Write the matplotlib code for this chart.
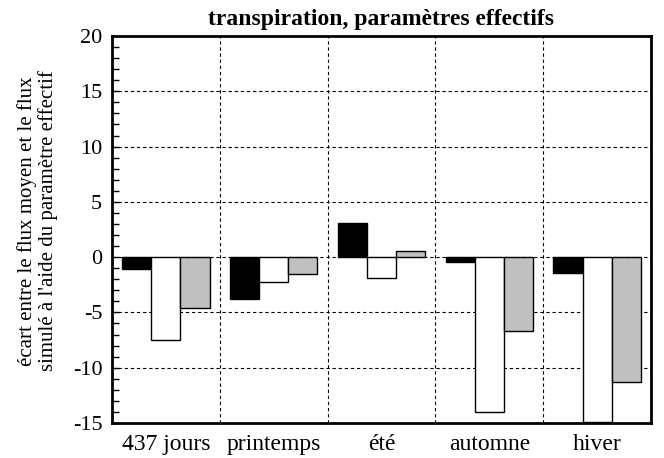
import numpy as np
import matplotlib
matplotlib.use('Agg')
from matplotlib import pyplot as plt

# categories et valeurs
categories = ['437 jours', 'printemps', 'été', 'automne', 'hiver']
serie_noire = [-1.1, -3.8, 3.1, -0.4, -1.45]
serie_blanche = [-7.45, -2.25, -1.85, -14.0, -14.9]
serie_grise = [-4.6, -1.5, 0.55, -6.7, -11.3]

plt.rcParams['font.family'] = ['Liberation Serif', 'DejaVu Serif']
plt.rcParams['axes.unicode_minus'] = False

fig = plt.figure(figsize=(6.64, 4.58), dpi=100)
ax = fig.add_axes([112/664, 1 - 423/458, 539/664, 387/458])

x = np.arange(len(categories))
w = 0.27
ax.bar(x - w, serie_noire, w, color='black', edgecolor='black', linewidth=1.0, zorder=3)
ax.bar(x, serie_blanche, w, color='white', edgecolor='black', linewidth=1.0, zorder=3)
ax.bar(x + w, serie_grise, w, color='#c0c0c0', edgecolor='black', linewidth=1.0, zorder=3)

ax.set_xlim(-0.5, len(categories) - 0.5)
ax.set_ylim(-15, 20)
ax.set_yticks(np.arange(-15, 21, 5))
ax.set_yticks(np.arange(-15, 21, 1), minor=True)
ax.set_xticks(x)
ax.set_xticklabels(categories)

# grille
for yv in [-10, -5, 0, 5, 10, 15]:
    ax.axhline(yv, color='black', linestyle=(0, (3, 2.5)), linewidth=0.8, zorder=1)
for xv in np.arange(0.5, len(categories) - 0.5, 1):
    ax.axvline(xv, color='black', linestyle=(0, (3, 2.5)), linewidth=0.8, zorder=1)

ax.tick_params(axis='y', which='major', direction='in', length=5, width=1, labelsize=16, pad=7)
ax.tick_params(axis='y', which='minor', direction='in', length=5, width=1)
ax.tick_params(axis='x', which='both', length=0, labelsize=17, pad=8)

for s in ax.spines.values():
    s.set_linewidth(2)

ax.set_ylabel("écart entre le flux moyen et le flux\nsimulé à l'aide du paramètre effectif",
              fontsize=15, linespacing=1.05)
ax.yaxis.set_label_coords(-0.100, 0.522)
ax.set_title('transpiration, paramètres effectifs', fontsize=17, fontweight='bold', pad=8)

plt.savefig('out.png', dpi=100)
